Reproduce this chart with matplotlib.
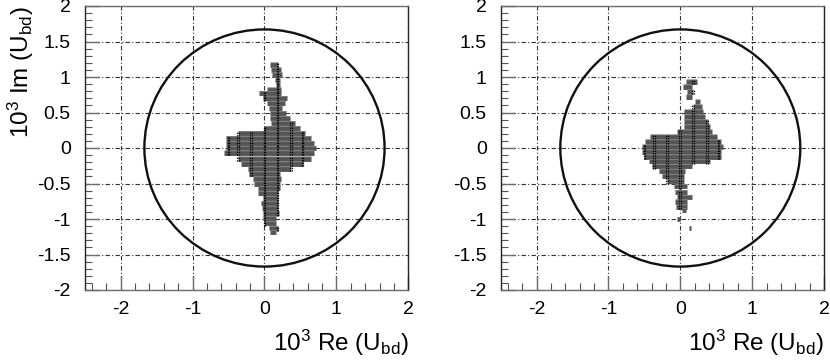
import numpy as np
import matplotlib
matplotlib.use("Agg")
import matplotlib.pyplot as plt
from matplotlib.patches import Circle
from matplotlib.ticker import MultipleLocator, FixedLocator

plt.rcParams['font.family'] = ['Liberation Sans', 'DejaVu Sans']
plt.rcParams['mathtext.fontset'] = 'custom'
plt.rcParams['mathtext.rm'] = 'Liberation Sans'
plt.rcParams['mathtext.default'] = 'rm'

circle_radius = 1.67
x_major = [-2, -1, 0, 1, 2]
y_major = [-2, -1.5, -1, -0.5, 0, 0.5, 1, 1.5, 2]
x_labels = ['-2', '-1', '0', '1', '2']
y_labels = ['-2', '-1.5', '-1', '-0.5', '0', '0.5', '1', '1.5', '2']
x_title = r'10$^{3}$ Re (U$_{bd}$)'
y_title = r'10$^{3}$ Im (U$_{bd}$)'

left_y = [1.17, 1.10, 1.03, .96, .89, .82, .77, .70, .63, .56, .49, .42, .35, .28, .21, .14, .07, 0,
          -.07, -.15, -.22, -.29, -.36, -.43, -.50, -.57, -.64, -.71, -.78, -.85, -.92, -.99, -1.06, -1.13, -1.19]
left_lo = [.08, .09, .11, .14, .16, .03, -.07, -.02, .03, .06, .08, .08, .09, 0, -.37, -.53, -.53, -.53,
           -.56, -.37, -.32, -.23, -.21, -.16, -.14, -.09, -.09, -.02, -.05, -.03, -.02, -.02, 0, .06, .08]
left_hi = [.19, .23, .25, .21, .21, .23, .23, .32, .28, .25, .30, .35, .42, .49, .56, .65, .69, .72,
           .69, .65, .53, .37, .21, .23, .21, .21, .19, .19, .19, .19, .20, .16, .16, .19, .16]

right_y = [.93, .86, .79, .72, .65, .58, .51, .44, .37, .30, .23, .16, .09, .02, -.05, -.12, -.19,
           -.26, -.33, -.40, -.47, -.54, -.62, -.69, -.76, -.83, -.88, -1.0, -1.13]
right_lo = [.08, .04, .10, .08, .21, .18, .05, .05, .05, .05, -.05, -.42, -.49, -.53, -.53, -.51, -.44,
            -.39, -.30, -.25, -.19, -.09, -.07, -.05, -.07, -.06, .02, -.05, .12]
right_hi = [.23, .16, .18, .16, .28, .30, .32, .35, .39, .42, .44, .51, .56, .60, .56, .56, .42,
            .16, .07, .05, .05, .09, .10, .16, .09, .10, .08, -.01, .15]

column_x = [-.5, -.37, -.19, 0.0, .18, .37, .53]

W, H = 830, 363
fig = plt.figure(figsize=(W / 100, H / 100), dpi=100)
GRAY = '#6e6e6e'


def panel(x0, x1, ys, los, his, ylabel):
    ax = fig.add_axes([x0 / W, 1 - 290 / H, (x1 - x0) / W, 284 / H])
    ax.set_xlim(-2.5, 2)
    ax.set_ylim(-2, 2)
    ax.xaxis.set_major_locator(FixedLocator(x_major))
    ax.yaxis.set_major_locator(FixedLocator(y_major))
    ax.xaxis.set_minor_locator(MultipleLocator(0.2))
    ax.yaxis.set_minor_locator(MultipleLocator(0.1))
    ax.set_xticklabels(x_labels)
    ax.set_yticklabels(y_labels)
    ax.tick_params(axis='both', which='major', direction='in', length=10, width=1.0,
                   color=GRAY, labelsize=14, top=False, right=False)
    ax.tick_params(axis='x', which='major', pad=8)
    ax.tick_params(axis='y', which='major', pad=10)
    ax.tick_params(axis='both', which='minor', direction='in', length=5, width=0.8,
                   color='#555555', top=False, right=False)
    for s in ax.spines.values():
        s.set_linewidth(1.0)
    ax.spines['left'].set_color('#222222')
    ax.spines['right'].set_color('#222222')
    ax.spines['top'].set_color(GRAY)
    ax.spines['bottom'].set_color(GRAY)
    ax.grid(True, which='major', color='#333333', lw=0.8, ls=(0, (4, 2, 1, 2)))
    ax.set_axisbelow(True)

    ax.add_patch(Circle((0, 0), circle_radius, fill=False, ec='#111111', lw=1.7, zorder=3))

    # Scatter cloud: rows of dark-grey cells, crossed by dotted black columns.
    ax.hlines(ys, los, his, colors='#555555', lw=3.5, zorder=4)
    ax.hlines(np.array(ys) + 0.035, los, his, colors='#8a8a8a', lw=0.5, zorder=5)
    for c in column_x:
        for y, lo, hi in zip(ys, los, his):
            if lo <= c <= hi:
                ax.vlines([c - 0.012, c + 0.012], y - 0.035, y + 0.035, colors='black',
                          lw=0.9, ls=(0, (1, 1)), zorder=6)

    ax.set_xlabel(x_title, fontsize=17.5, loc='right', labelpad=7)
    if ylabel:
        ax.set_ylabel(y_title, fontsize=17.5, loc='top', labelpad=1)
    return ax


panel(84.7, 408.3, left_y, left_lo, left_hi, True)
panel(500.7, 824, right_y, right_lo, right_hi, False)
fig.savefig('out.png', dpi=100)
